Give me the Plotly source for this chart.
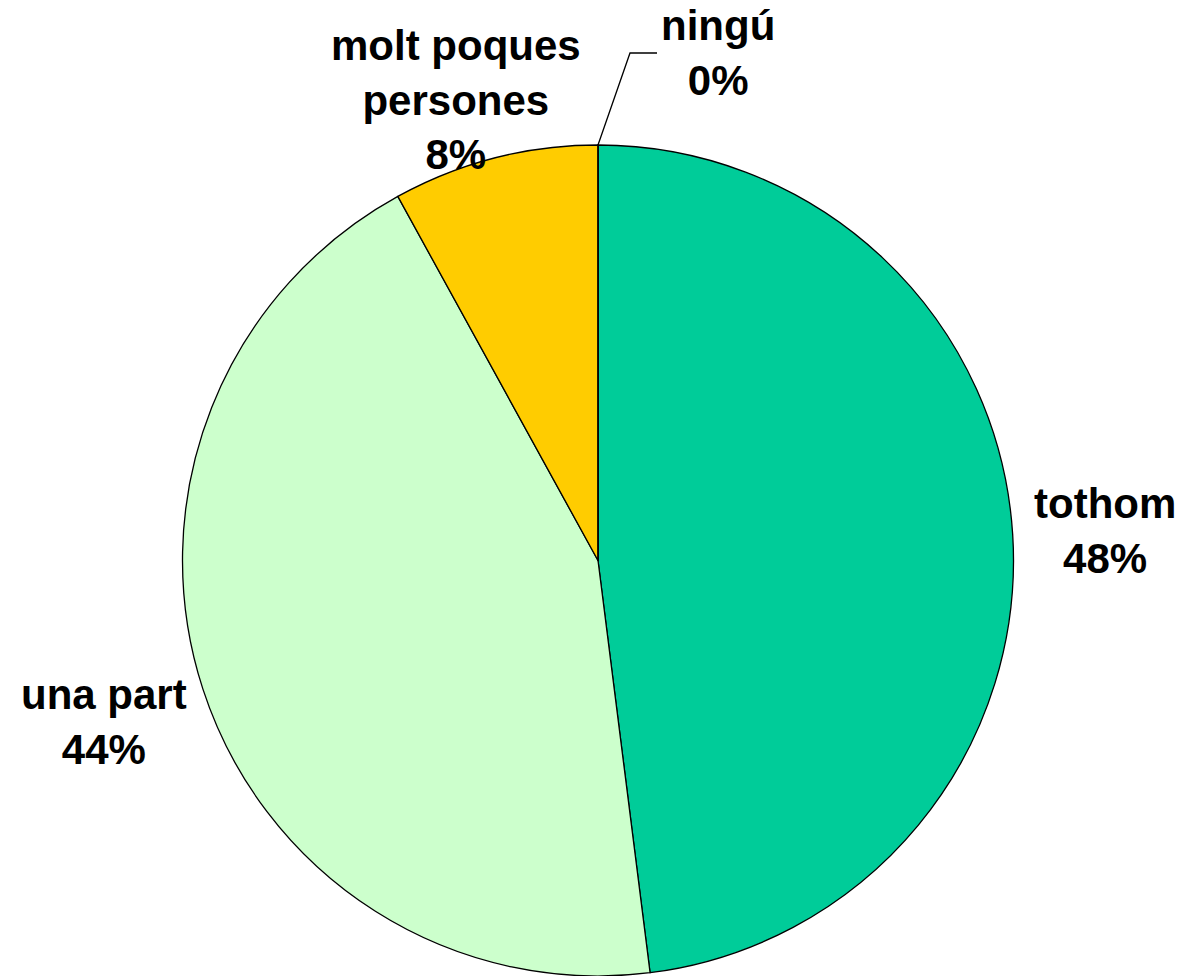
import math
import plotly.graph_objects as go

# data
categories = ["tothom", "una part", "molt poques persones", "ningú"]
label_text = ["tothom", "una part", "molt poques<br>persones", "ningú"]
values = [48, 44, 8, 0]
colors = ["#00CC99", "#CCFFCC", "#FFCC00", "#9999FF"]

W, H = 1183, 976
cx, cy, r = 598, 560.5, 415.5  # pie centre / radius in px

# distance of each label from the centre and small nudges (px)
label_dist = [508, 516, 482, 0]
label_nudge = [(0, 2), (-3, 2), (-22, 6), (0, 0)]


def px(x, y):
    return x / W, 1 - y / H


fig = go.Figure()

fig.add_trace(go.Pie(
    labels=categories, values=values, sort=False, direction="clockwise",
    rotation=0, marker=dict(colors=colors, line=dict(color="black", width=1.3)),
    textinfo="none", hoverinfo="label+percent", showlegend=False,
    domain=dict(x=[(cx - r) / W, (cx + r) / W],
                y=[max(0, (H - cy - r) / H), (H - cy + r) / H]),
))

total = sum(values)
cum = 0
for i, v in enumerate(values):
    mid = (cum + v / 2) / total * 2 * math.pi
    edge = (cum + v) / total * 2 * math.pi
    cum += v
    txt = f"<b>{label_text[i]}<br>{round(v / total * 100)}%</b>"
    if v > 0:
        lx = cx + label_dist[i] * math.sin(mid) + label_nudge[i][0]
        ly = cy - label_dist[i] * math.cos(mid) + label_nudge[i][1]
    else:
        # zero slice: label moved off with a leader line from the pie edge
        ex = cx + r * math.sin(edge)
        ey = cy - r * math.cos(edge)
        bx, by = ex + 32, 53
        hx = bx + 27
        lx, ly = hx + 61, 53
        x0, y0 = px(ex, ey)
        x1, y1 = px(bx, by)
        x2, y2 = px(hx, by)
        fig.add_shape(type="path", xref="paper", yref="paper",
                      path=f"M {x0} {y0} L {x1} {y1} L {x2} {y2}",
                      line=dict(color="black", width=1.3))
    ax, ay = px(lx, ly)
    fig.add_annotation(x=ax, y=ay, xref="paper", yref="paper", text=txt,
                       showarrow=False, xanchor="center", yanchor="middle",
                       font=dict(family="Liberation Sans, Arial", size=42, color="black"))

fig.update_layout(
    width=W, height=H,
    margin=dict(l=0, r=0, t=0, b=0),
    paper_bgcolor="white", plot_bgcolor="white",
)

fig.write_html("out.html", config={"displayModeBar": False},
               post_script="document.body.style.margin='0';")
